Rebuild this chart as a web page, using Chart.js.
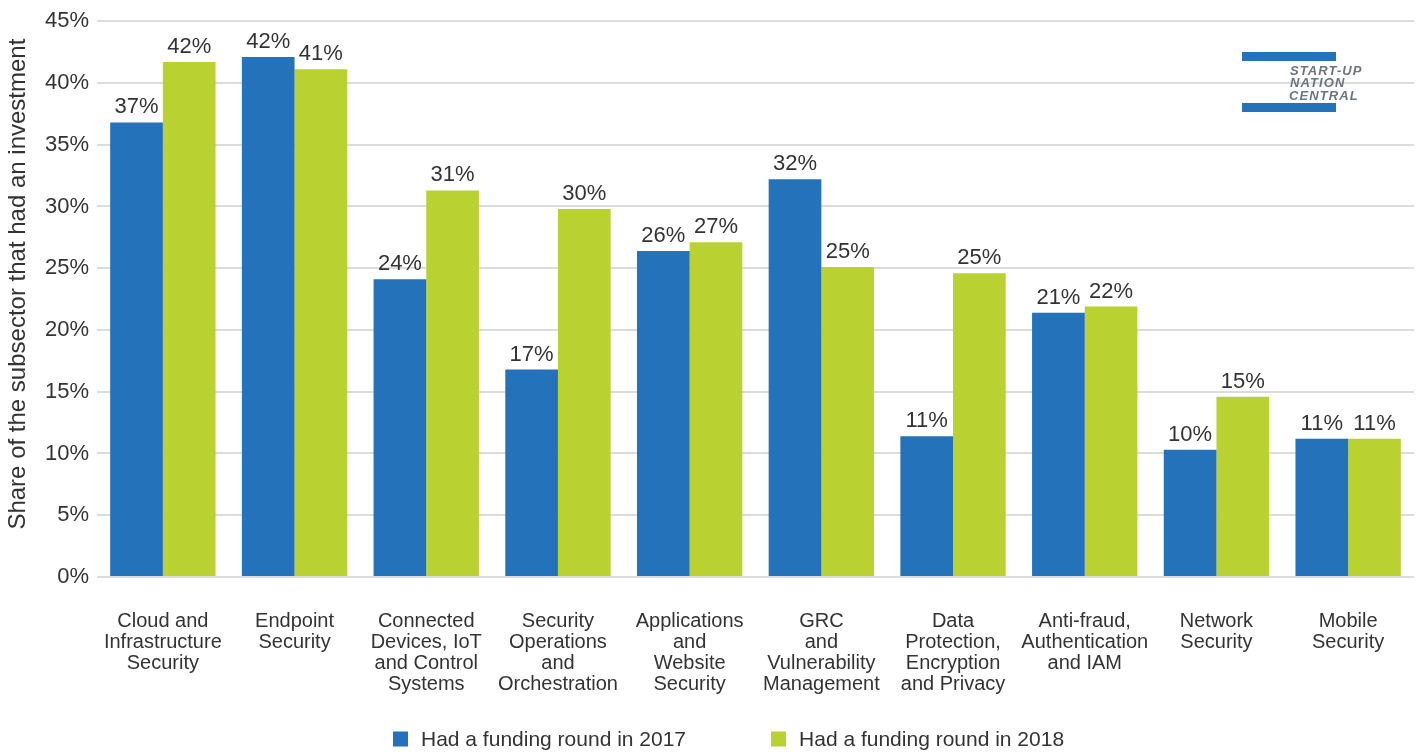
<!DOCTYPE html>
<html>
<head>
<meta charset="utf-8">
<title>Cyber security subsectors with an investment</title>
<script src="https://cdn.jsdelivr.net/npm/chart.js@4/dist/chart.umd.min.js"></script>
<style>
  html, body { margin: 0; padding: 0; background: #fff; }
  #wrap { width: 1420px; height: 753px; }
</style>
</head>
<body>
<div id="wrap"><canvas id="fundingChart" width="1420" height="753"></canvas></div>
<script>
var subsectors = [
    ["Cloud and", "Infrastructure", "Security"],
    ["Endpoint", "Security"],
    ["Connected", "Devices, IoT", "and Control", "Systems"],
    ["Security", "Operations", "and", "Orchestration"],
    ["Applications", "and", "Website", "Security"],
    ["GRC", "and", "Vulnerability", "Management"],
    ["Data", "Protection,", "Encryption", "and Privacy"],
    ["Anti-fraud,", "Authentication", "and IAM"],
    ["Network", "Security"],
    ["Mobile", "Security"]
];
var funded2017 = [36.8, 42.1, 24.1, 16.8, 26.4, 32.2, 11.4, 21.4, 10.3, 11.2];
var funded2018 = [41.7, 41.1, 31.3, 29.8, 27.1, 25.1, 24.6, 21.9, 14.6, 11.2];
var seriesNames = ["Had a funding round in 2017", "Had a funding round in 2018"];
var seriesColors = ["#2472ba", "#b9d232"];
var yTitle = "Share of the subsector that had an investment";
var yMin = 0, yMax = 45, yStep = 5;

var FONT = "'Liberation Sans', Arial, sans-serif";
var TEXT = "#333333";

Chart.defaults.font.family = FONT;
Chart.defaults.color = TEXT;

// percentage labels above every bar
var valueLabels = {
    id: 'valueLabels',
    afterDatasetsDraw(chart) {
        var ctx = chart.ctx;
        ctx.save();
        ctx.font = "22px " + FONT;
        ctx.fillStyle = TEXT;
        ctx.textAlign = 'center';
        ctx.textBaseline = 'alphabetic';
        chart.data.datasets.forEach((ds, i) => {
            chart.getDatasetMeta(i).data.forEach((bar, j) => {
                ctx.fillText(Math.round(ds.data[j]) + '%', bar.x, bar.y - 9);
            });
        });
        ctx.restore();
    }
};

// rotated y title, sits a little above the axis middle
var yAxisTitle = {
    id: 'yAxisTitle',
    afterDraw(chart) {
        var ctx = chart.ctx;
        var area = chart.chartArea;
        ctx.save();
        ctx.translate(18, (area.top + area.bottom) / 2 - 15);
        ctx.rotate(-Math.PI / 2);
        ctx.font = "24px " + FONT;
        ctx.fillStyle = TEXT;
        ctx.textAlign = 'center';
        ctx.textBaseline = 'middle';
        ctx.fillText(yTitle, 0, 0);
        ctx.restore();
    }
};

// legend row under the axis labels
var bottomLegend = {
    id: 'bottomLegend',
    afterDraw(chart) {
        var ctx = chart.ctx;
        var box = 15, gap = 13, itemGap = 85;
        var cy = 739;
        var x = 393;
        ctx.save();
        ctx.font = "21px " + FONT;
        ctx.textBaseline = 'middle';
        ctx.textAlign = 'left';
        chart.data.datasets.forEach(ds => {
            ctx.fillStyle = ds.backgroundColor;
            ctx.fillRect(x, cy - box / 2, box, box);
            ctx.fillStyle = TEXT;
            ctx.fillText(ds.label, x + box + gap, cy + 1);
            x += box + gap + ctx.measureText(ds.label).width + itemGap;
        });
        ctx.restore();
    }
};

// Start-Up Nation Central mark, top right
var logo = {
    id: 'logo',
    afterDraw(chart) {
        var ctx = chart.ctx;
        ctx.save();
        ctx.fillStyle = "#2472ba";
        ctx.fillRect(1242, 52, 94, 9);
        ctx.fillRect(1242, 103, 94, 9);
        ctx.fillStyle = "#6d7480";
        ctx.font = "italic bold 13px " + FONT;
        ctx.textAlign = 'left';
        ctx.textBaseline = 'alphabetic';
        if ('letterSpacing' in ctx) ctx.letterSpacing = '1.1px';
        ctx.fillText("START-UP", 1290, 74.5);
        ctx.fillText("NATION", 1290, 87);
        ctx.fillText("CENTRAL", 1289, 99.5);
        ctx.restore();
    }
};

new Chart("fundingChart", {
    type: "bar",
    data: {
        labels: subsectors,
        datasets: [{
            label: seriesNames[0],
            data: funded2017,
            backgroundColor: seriesColors[0]
        }, {
            label: seriesNames[1],
            data: funded2018,
            backgroundColor: seriesColors[1]
        }]
    },
    options: {
        responsive: false,
        animation: false,
        layout: { padding: { top: 18, right: 6, bottom: 56, left: 0 } },
        categoryPercentage: 0.8,
        barPercentage: 1.0,
        plugins: {
            legend: { display: false },
            tooltip: { enabled: false }
        },
        scales: {
            x: {
                grid: { display: false, drawTicks: false },
                border: { display: false },
                ticks: {
                    padding: 34,
                    maxRotation: 0,
                    autoSkip: false,
                    font: { size: 20, lineHeight: '21px' },
                    color: TEXT
                },
                afterFit(scale) { scale.height = 120; }
            },
            y: {
                min: yMin,
                max: yMax,
                grid: { color: "#dcdcdc", lineWidth: 2, drawTicks: false },
                border: { display: false },
                ticks: {
                    stepSize: yStep,
                    padding: 8,
                    font: { size: 22 },
                    color: TEXT,
                    callback: v => v + '%'
                },
                afterFit(scale) { scale.width = 97; }
            }
        }
    },
    plugins: [valueLabels, yAxisTitle, bottomLegend, logo]
});
</script>
</body>
</html>
